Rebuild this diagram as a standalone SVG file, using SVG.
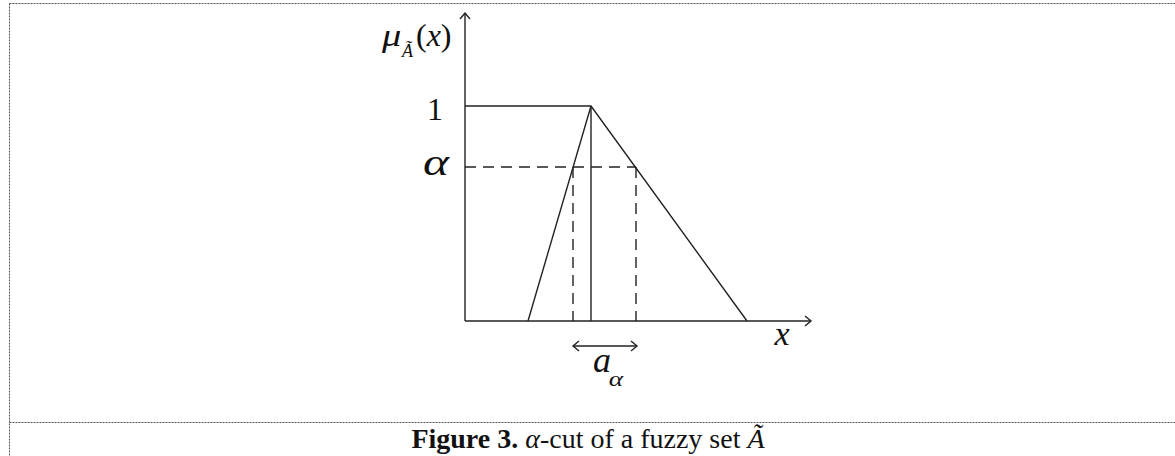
<svg xmlns="http://www.w3.org/2000/svg" width="1175" height="456" viewBox="0 0 1175 456">
<style>
.frame{stroke:#555;stroke-width:1;stroke-dasharray:2 1;fill:none}
.ln{stroke:#222;stroke-width:1.4;fill:none}
.dash{stroke:#222;stroke-width:1.4;fill:none;stroke-dasharray:11 7}
.m{font-family:"Liberation Serif","DejaVu Serif",serif;font-style:italic;fill:#111}
.r{font-family:"Liberation Serif","DejaVu Serif",serif;fill:#111}
</style>
<defs>
<marker id="open" viewBox="-8 -6 10 12" markerWidth="10" markerHeight="12" refX="0" refY="0" orient="auto-start-reverse" markerUnits="userSpaceOnUse">
<path d="M-6,-5 L0,0 L-6,5" fill="none" stroke="#222" stroke-width="1.4"/>
</marker>
</defs>
<rect width="1175" height="456" fill="#fff"/>
<g id="frame">
<line class="frame" x1="9.5" y1="3.5" x2="1175" y2="3.5"/>
<line class="frame" x1="9.5" y1="3.5" x2="9.5" y2="456"/>
<line class="frame" x1="9.5" y1="422.5" x2="1175" y2="422.5"/>
</g>
<g id="axes">
<line class="ln" x1="465" y1="321" x2="465" y2="13" marker-end="url(#open)"/>
<line class="ln" x1="465" y1="321" x2="811" y2="321" marker-end="url(#open)"/>
</g>
<g id="curve">
<polyline class="ln" points="465,106 591,106 747,321"/>
<line class="ln" x1="528" y1="321" x2="591" y2="106"/>
<line class="ln" x1="591" y1="106" x2="591" y2="321"/>
</g>
<g id="cut">
<line class="dash" x1="465" y1="167" x2="636" y2="167"/>
<line class="dash" x1="573" y1="167" x2="573" y2="321"/>
<line class="dash" x1="636" y1="167" x2="636" y2="321"/>
<line class="ln" x1="573" y1="346" x2="637" y2="346" marker-start="url(#open)" marker-end="url(#open)"/>
</g>
<g id="labels">
<text class="m" font-size="32" transform="translate(382,46) scale(1.2,1)">μ</text>
<text class="m" x="402" y="57" font-size="18">Ã</text>
<text class="r" x="416" y="46" font-size="32">(<tspan class="m">x</tspan>)</text>
<text class="r" x="435" y="120" font-size="32" text-anchor="middle">1</text>
<text class="m" font-size="38" text-anchor="middle" transform="translate(436,175) scale(1.3,1)">α</text>
<text class="m" x="782" y="345" font-size="34" text-anchor="middle">x</text>
<text class="m" x="602" y="372" font-size="36" text-anchor="middle">a</text>
<text class="m" font-size="21" text-anchor="middle" transform="translate(616,386) scale(1.3,1)">α</text>
</g>
<g id="caption">
<text class="r" x="588" y="448" font-size="28" text-anchor="middle"><tspan font-weight="bold">Figure 3.</tspan> <tspan font-style="italic">α</tspan>-cut of a fuzzy set <tspan font-style="italic">Ã</tspan></text>
</g>
</svg>
